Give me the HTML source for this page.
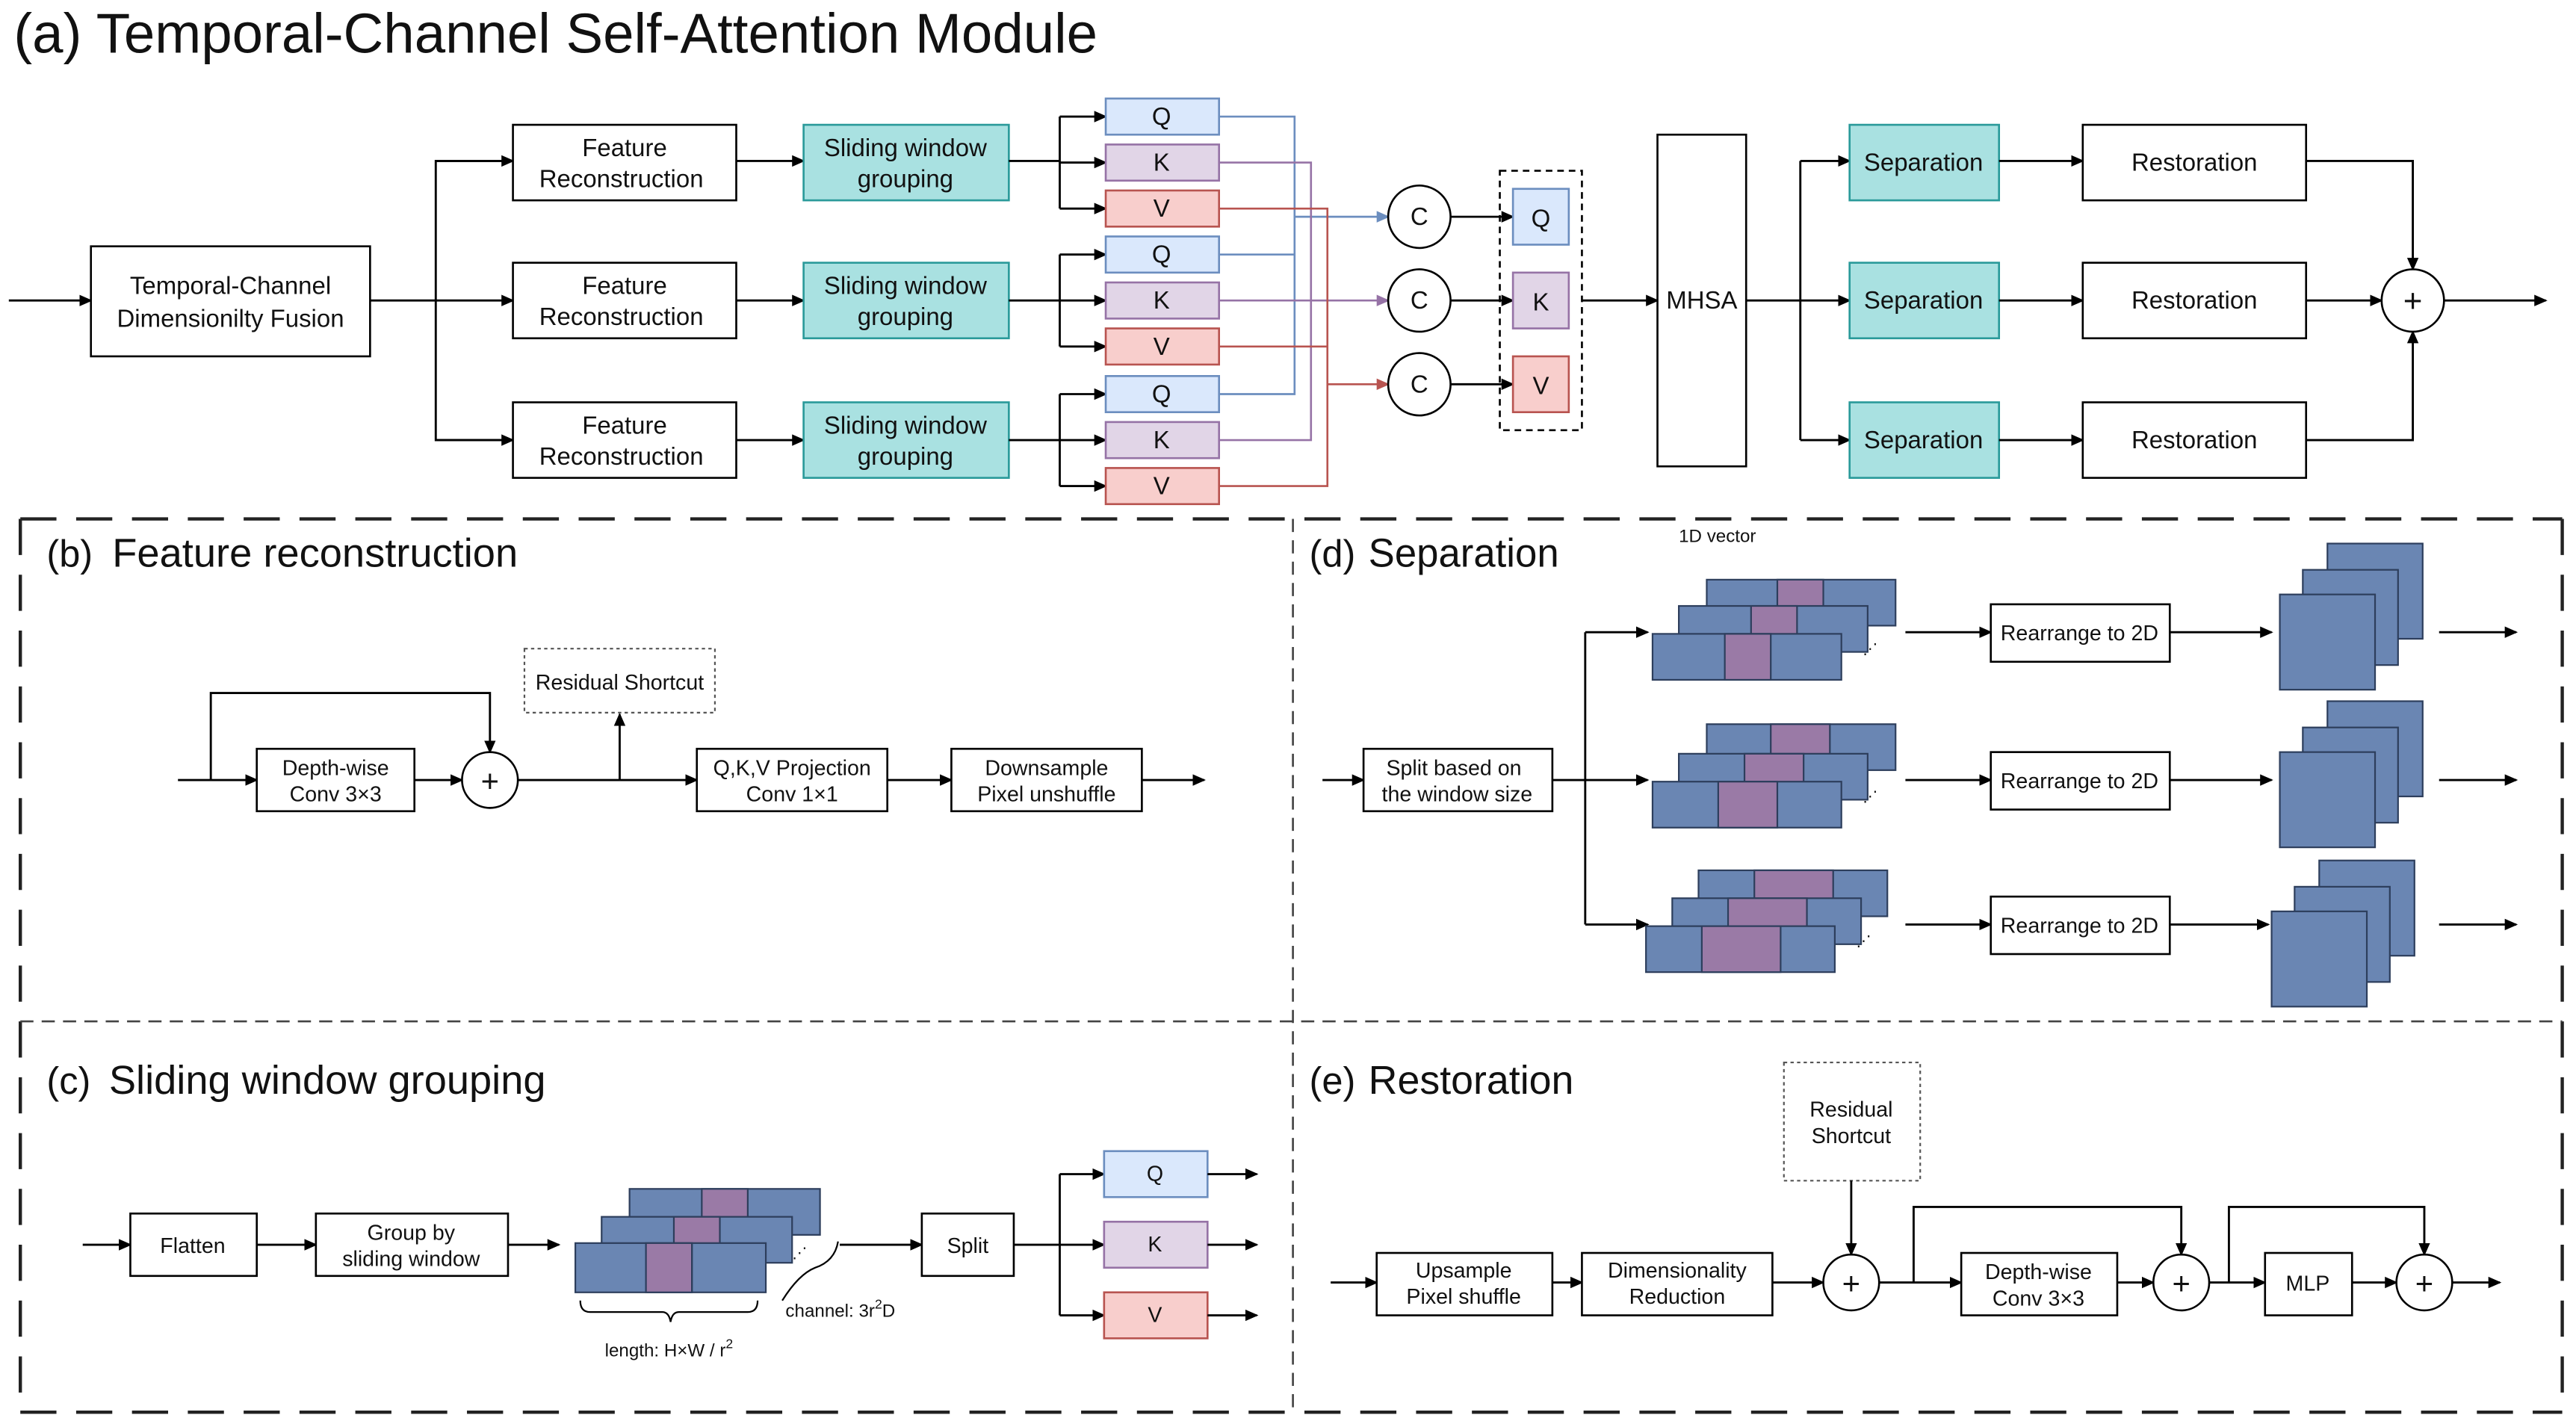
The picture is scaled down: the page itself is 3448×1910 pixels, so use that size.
<!DOCTYPE html>
<html><head><meta charset="utf-8"><style>
html,body{margin:0;padding:0;background:#fff;}
svg{display:block;}
text{font-family:"Liberation Sans",Arial,sans-serif;fill:#111;}
</style></head><body>
<svg width="3448" height="1910" viewBox="0 0 1568 869" xmlns="http://www.w3.org/2000/svg">
<defs>
<marker id="a" markerWidth="8" markerHeight="8" refX="7" refY="4" orient="auto" markerUnits="userSpaceOnUse"><path d="M0,0.5 L8,4 L0,7.5 Z" fill="#000"/></marker>
<marker id="ab" markerWidth="8" markerHeight="8" refX="7" refY="4" orient="auto" markerUnits="userSpaceOnUse"><path d="M0,0.5 L8,4 L0,7.5 Z" fill="#6c8ebf"/></marker>
<marker id="ap" markerWidth="8" markerHeight="8" refX="7" refY="4" orient="auto" markerUnits="userSpaceOnUse"><path d="M0,0.5 L8,4 L0,7.5 Z" fill="#9673a6"/></marker>
<marker id="ar" markerWidth="8" markerHeight="8" refX="7" refY="4" orient="auto" markerUnits="userSpaceOnUse"><path d="M0,0.5 L8,4 L0,7.5 Z" fill="#b85450"/></marker>
</defs>
<style>
.l{stroke:#000;stroke-width:1.3;fill:none;}
.b{stroke:#000;stroke-width:1.2;fill:#fff;}
.t{fill:#a9e1e1;stroke:#2a9a9a;stroke-width:1.2;}
.q{fill:#dae8fc;stroke:#6c8ebf;stroke-width:1.2;}
.k{fill:#e1d5e7;stroke:#9673a6;stroke-width:1.2;}
.v{fill:#f8cecc;stroke:#b85450;stroke-width:1.2;}
.bl{fill:#6a86b3;stroke:#2d3e5c;stroke-width:1;}
.pu{fill:#9a7aa6;stroke:#2d3e5c;stroke-width:1;}
.m{font-size:15px;text-anchor:middle;}
.s{font-size:13px;text-anchor:middle;}
</style>

<text x="8" y="32" font-size="34" textLength="660" lengthAdjust="spacingAndGlyphs">(a) Temporal-Channel Self-Attention Module</text>

<!-- (a) -->
<line class="l" x1="5" y1="183" x2="55" y2="183" marker-end="url(#a)"/>
<rect class="b" x="55" y="150" width="170" height="67"/>
<text class="m" x="140" y="179">Temporal-Channel</text>
<text class="m" x="140" y="199">Dimensionilty Fusion</text>
<line class="l" x1="225" y1="183" x2="312" y2="183" marker-end="url(#a)"/>
<polyline class="l" points="312,98 265,98 265,268 312,268"/>
<line class="l" x1="265" y1="98" x2="312" y2="98" marker-end="url(#a)"/>
<line class="l" x1="265" y1="268" x2="312" y2="268" marker-end="url(#a)"/>

<g>
<rect class="b" x="312" y="76" width="136" height="46"/><text class="m" x="380" y="95">Feature</text><text class="m" x="378" y="114">Reconstruction</text>
<rect class="b" x="312" y="160" width="136" height="46"/><text class="m" x="380" y="179">Feature</text><text class="m" x="378" y="198">Reconstruction</text>
<rect class="b" x="312" y="245" width="136" height="46"/><text class="m" x="380" y="264">Feature</text><text class="m" x="378" y="283">Reconstruction</text>
<line class="l" x1="448" y1="98" x2="489" y2="98" marker-end="url(#a)"/>
<line class="l" x1="448" y1="183" x2="489" y2="183" marker-end="url(#a)"/>
<line class="l" x1="448" y1="268" x2="489" y2="268" marker-end="url(#a)"/>
<rect class="t" x="489" y="76" width="125" height="46"/><text class="m" x="551" y="95">Sliding window</text><text class="m" x="551" y="114">grouping</text>
<rect class="t" x="489" y="160" width="125" height="46"/><text class="m" x="551" y="179">Sliding window</text><text class="m" x="551" y="198">grouping</text>
<rect class="t" x="489" y="245" width="125" height="46"/><text class="m" x="551" y="264">Sliding window</text><text class="m" x="551" y="283">grouping</text>
</g>

<g>
<line class="l" x1="614" y1="98" x2="645" y2="98"/><line class="l" x1="645" y1="71" x2="645" y2="127"/>
<line class="l" x1="645" y1="71" x2="673" y2="71" marker-end="url(#a)"/><line class="l" x1="645" y1="99" x2="673" y2="99" marker-end="url(#a)"/><line class="l" x1="645" y1="127" x2="673" y2="127" marker-end="url(#a)"/>
<line class="l" x1="614" y1="183" x2="645" y2="183"/><line class="l" x1="645" y1="155" x2="645" y2="211"/>
<line class="l" x1="645" y1="155" x2="673" y2="155" marker-end="url(#a)"/><line class="l" x1="645" y1="183" x2="673" y2="183" marker-end="url(#a)"/><line class="l" x1="645" y1="211" x2="673" y2="211" marker-end="url(#a)"/>
<line class="l" x1="614" y1="268" x2="645" y2="268"/><line class="l" x1="645" y1="240" x2="645" y2="296"/>
<line class="l" x1="645" y1="240" x2="673" y2="240" marker-end="url(#a)"/><line class="l" x1="645" y1="268" x2="673" y2="268" marker-end="url(#a)"/><line class="l" x1="645" y1="296" x2="673" y2="296" marker-end="url(#a)"/>
</g>
<g font-size="15" text-anchor="middle">
<rect class="q" x="673" y="60" width="69" height="22"/><text x="707" y="76">Q</text>
<rect class="k" x="673" y="88" width="69" height="22"/><text x="707" y="104">K</text>
<rect class="v" x="673" y="116" width="69" height="22"/><text x="707" y="132">V</text>
<rect class="q" x="673" y="144" width="69" height="22"/><text x="707" y="160">Q</text>
<rect class="k" x="673" y="172" width="69" height="22"/><text x="707" y="188">K</text>
<rect class="v" x="673" y="200" width="69" height="22"/><text x="707" y="216">V</text>
<rect class="q" x="673" y="229" width="69" height="22"/><text x="707" y="245">Q</text>
<rect class="k" x="673" y="257" width="69" height="22"/><text x="707" y="273">K</text>
<rect class="v" x="673" y="285" width="69" height="22"/><text x="707" y="301">V</text>
</g>
<g fill="none" stroke-width="1.2">
<polyline stroke="#6c8ebf" points="742,71 788,71 788,240 742,240"/><line stroke="#6c8ebf" x1="742" y1="155" x2="788" y2="155"/>
<line stroke="#6c8ebf" x1="788" y1="132" x2="845" y2="132" marker-end="url(#ab)"/>
<polyline stroke="#9673a6" points="742,99 798,99 798,268 742,268"/><line stroke="#9673a6" x1="742" y1="183" x2="798" y2="183"/>
<line stroke="#9673a6" x1="798" y1="183" x2="845" y2="183" marker-end="url(#ap)"/>
<polyline stroke="#b85450" points="742,127 808,127 808,296 742,296"/><line stroke="#b85450" x1="742" y1="211" x2="808" y2="211"/>
<line stroke="#b85450" x1="808" y1="234" x2="845" y2="234" marker-end="url(#ar)"/>
</g>
<g>
<circle class="b" cx="864" cy="132" r="19"/><text class="m" x="864" y="137">C</text>
<circle class="b" cx="864" cy="183" r="19"/><text class="m" x="864" y="188">C</text>
<circle class="b" cx="864" cy="234" r="19"/><text class="m" x="864" y="239">C</text>
<line class="l" x1="883" y1="132" x2="921" y2="132" marker-end="url(#a)"/>
<line class="l" x1="883" y1="183" x2="921" y2="183" marker-end="url(#a)"/>
<line class="l" x1="883" y1="234" x2="921" y2="234" marker-end="url(#a)"/>
<rect x="913" y="104" width="50" height="158" fill="none" stroke="#000" stroke-width="1.2" stroke-dasharray="4,3"/>
<rect class="q" x="921" y="115" width="34" height="34"/><text class="m" x="938" y="138">Q</text>
<rect class="k" x="921" y="166" width="34" height="34"/><text class="m" x="938" y="189">K</text>
<rect class="v" x="921" y="217" width="34" height="34"/><text class="m" x="938" y="240">V</text>
<line class="l" x1="963" y1="183" x2="1009" y2="183" marker-end="url(#a)"/>
<rect class="b" x="1009" y="82" width="54" height="202"/><text class="m" x="1036" y="188">MHSA</text>
<line class="l" x1="1063" y1="183" x2="1126" y2="183" marker-end="url(#a)"/>
<line class="l" x1="1096" y1="98" x2="1096" y2="268"/>
<line class="l" x1="1096" y1="98" x2="1126" y2="98" marker-end="url(#a)"/>
<line class="l" x1="1096" y1="268" x2="1126" y2="268" marker-end="url(#a)"/>
<rect class="t" x="1126" y="76" width="91" height="46"/><text class="m" x="1171" y="104">Separation</text>
<rect class="t" x="1126" y="160" width="91" height="46"/><text class="m" x="1171" y="188">Separation</text>
<rect class="t" x="1126" y="245" width="91" height="46"/><text class="m" x="1171" y="273">Separation</text>
<line class="l" x1="1217" y1="98" x2="1268" y2="98" marker-end="url(#a)"/>
<line class="l" x1="1217" y1="183" x2="1268" y2="183" marker-end="url(#a)"/>
<line class="l" x1="1217" y1="268" x2="1268" y2="268" marker-end="url(#a)"/>
<rect class="b" x="1268" y="76" width="136" height="46"/><text class="m" x="1336" y="104">Restoration</text>
<rect class="b" x="1268" y="160" width="136" height="46"/><text class="m" x="1336" y="188">Restoration</text>
<rect class="b" x="1268" y="245" width="136" height="46"/><text class="m" x="1336" y="273">Restoration</text>
<polyline class="l" points="1404,98 1469,98 1469,164" marker-end="url(#a)"/>
<polyline class="l" points="1404,268 1469,268 1469,202" marker-end="url(#a)"/>
<line class="l" x1="1404" y1="183" x2="1450" y2="183" marker-end="url(#a)"/>
<circle class="b" cx="1469" cy="183" r="19"/><text x="1469" y="190" font-size="20" text-anchor="middle">+</text>
<line class="l" x1="1488" y1="183" x2="1550" y2="183" marker-end="url(#a)"/>
</g>

<g fill="none" stroke="#222" stroke-width="2">
<line x1="12" y1="316" x2="1560" y2="316" stroke-dasharray="22,12"/>
<line x1="12" y1="860" x2="1560" y2="860" stroke-dasharray="22,12"/>
<line x1="12" y1="316" x2="12" y2="860" stroke-dasharray="22,12"/>
<line x1="1560" y1="316" x2="1560" y2="860" stroke-dasharray="22,12"/>
</g>
<g fill="none" stroke="#444" stroke-width="1.2" stroke-dasharray="8,5">
<line x1="787" y1="316" x2="787" y2="860"/>
<line x1="12" y1="622" x2="1560" y2="622"/>
</g>

<!-- (b) -->
<text x="28" y="345" font-size="23">(b)</text>
<text x="68" y="345" font-size="24.5" textLength="247" lengthAdjust="spacingAndGlyphs">Feature reconstruction</text>
<line class="l" x1="108" y1="475" x2="156" y2="475" marker-end="url(#a)"/>
<polyline class="l" points="128,475 128,422 298,422 298,458" marker-end="url(#a)"/>
<rect class="b" x="156" y="456" width="96" height="38"/><text class="s" x="204" y="472">Depth-wise</text><text class="s" x="204" y="488">Conv 3×3</text>
<line class="l" x1="252" y1="475" x2="281" y2="475" marker-end="url(#a)"/>
<circle class="b" cx="298" cy="475" r="17"/><text x="298" y="482" font-size="19" text-anchor="middle">+</text>
<line class="l" x1="315" y1="475" x2="424" y2="475" marker-end="url(#a)"/>
<line class="l" x1="377" y1="475" x2="377" y2="435" marker-end="url(#a)"/>
<rect x="319" y="395" width="116" height="39" fill="#fff" stroke="#555" stroke-dasharray="2,2"/>
<text class="s" x="377" y="420">Residual Shortcut</text>
<rect class="b" x="424" y="456" width="116" height="38"/><text class="s" x="482" y="472">Q,K,V Projection</text><text class="s" x="482" y="488">Conv 1×1</text>
<line class="l" x1="540" y1="475" x2="579" y2="475" marker-end="url(#a)"/>
<rect class="b" x="579" y="456" width="116" height="38"/><text class="s" x="637" y="472">Downsample</text><text class="s" x="637" y="488">Pixel unshuffle</text>
<line class="l" x1="695" y1="475" x2="733" y2="475" marker-end="url(#a)"/>

<!-- (c) -->
<text x="28" y="666" font-size="23">(c)</text>
<text x="66" y="666" font-size="24.5" textLength="266" lengthAdjust="spacingAndGlyphs">Sliding window grouping</text>
<line class="l" x1="50" y1="758" x2="79" y2="758" marker-end="url(#a)"/>
<rect class="b" x="79" y="739" width="77" height="38"/><text class="s" x="117" y="763">Flatten</text>
<line class="l" x1="156" y1="758" x2="192" y2="758" marker-end="url(#a)"/>
<rect class="b" x="192" y="739" width="117" height="38"/><text class="s" x="250" y="755">Group by</text><text class="s" x="250" y="771">sliding window</text>
<line class="l" x1="309" y1="758" x2="340" y2="758" marker-end="url(#a)"/>
<g>
<rect class="bl" x="383" y="724" width="116" height="28"/><rect class="pu" x="427" y="724" width="28" height="28"/>
<rect class="bl" x="366" y="741" width="116" height="28"/><rect class="pu" x="410" y="741" width="28" height="28"/>
<rect class="bl" x="350" y="757" width="116" height="30"/><rect class="pu" x="393" y="757" width="28" height="30"/>
<line x1="421" y1="757" x2="421" y2="787" stroke="#2d3e5c"/>
</g>
<text x="482" y="766" font-size="9">⋰</text>
<path d="M353,792 q0,7 6,7 h44 q4,0 5,6 q1,-6 5,-6 h42 q6,0 6,-7" fill="none" stroke="#000" stroke-width="1"/>
<text x="407" y="826" font-size="11" text-anchor="middle">length: H×W / r<tspan dy="-5" font-size="8">2</tspan></text>
<path d="M510,756 q-2,12 -14,16 q-10,4 -20,20" fill="none" stroke="#000" stroke-width="1"/>
<text x="478" y="802" font-size="11">channel: 3r<tspan dy="-5" font-size="8">2</tspan><tspan dy="5">D</tspan></text>
<line class="l" x1="511" y1="758" x2="561" y2="758" marker-end="url(#a)"/>
<rect class="b" x="561" y="739" width="56" height="38"/><text class="s" x="589" y="763">Split</text>
<line class="l" x1="617" y1="758" x2="672" y2="758" marker-end="url(#a)"/>
<line class="l" x1="645" y1="715" x2="645" y2="801"/>
<line class="l" x1="645" y1="715" x2="672" y2="715" marker-end="url(#a)"/>
<line class="l" x1="645" y1="801" x2="672" y2="801" marker-end="url(#a)"/>
<rect class="q" x="672" y="701" width="63" height="28"/><text class="s" x="703" y="719">Q</text>
<rect class="k" x="672" y="744" width="63" height="28"/><text class="s" x="703" y="762">K</text>
<rect class="v" x="672" y="787" width="63" height="28"/><text class="s" x="703" y="805">V</text>
<line class="l" x1="735" y1="715" x2="765" y2="715" marker-end="url(#a)"/>
<line class="l" x1="735" y1="758" x2="765" y2="758" marker-end="url(#a)"/>
<line class="l" x1="735" y1="801" x2="765" y2="801" marker-end="url(#a)"/>

<!-- (d) -->
<text x="797" y="345" font-size="23">(d)</text>
<text x="833" y="345" font-size="24.5" textLength="116" lengthAdjust="spacingAndGlyphs">Separation</text>
<text x="1022" y="330" font-size="11">1D vector</text>
<line class="l" x1="805" y1="475" x2="830" y2="475" marker-end="url(#a)"/>
<rect class="b" x="830" y="456" width="115" height="38"/><text class="s" x="885" y="472">Split based on</text><text class="s" x="887" y="488">the window size</text>
<line class="l" x1="945" y1="475" x2="1003" y2="475" marker-end="url(#a)"/>
<line class="l" x1="965" y1="385" x2="965" y2="563"/>
<line class="l" x1="965" y1="385" x2="1003" y2="385" marker-end="url(#a)"/>
<line class="l" x1="965" y1="563" x2="1003" y2="563" marker-end="url(#a)"/>
<g>
<rect class="bl" x="1039" y="353" width="115" height="28"/><rect class="pu" x="1082" y="353" width="28" height="28"/>
<rect class="bl" x="1022" y="369" width="115" height="28"/><rect class="pu" x="1066" y="369" width="28" height="28"/>
<rect class="bl" x="1006" y="386" width="115" height="28"/><rect class="pu" x="1050" y="386" width="28" height="28"/>
<text x="1134" y="398" font-size="9">⋰</text>
</g>
<g>
<rect class="bl" x="1039" y="441" width="115" height="28"/><rect class="pu" x="1078" y="441" width="36" height="28"/>
<rect class="bl" x="1022" y="459" width="115" height="28"/><rect class="pu" x="1062" y="459" width="36" height="28"/>
<rect class="bl" x="1006" y="476" width="115" height="28"/><rect class="pu" x="1046" y="476" width="36" height="28"/>
<text x="1134" y="488" font-size="9">⋰</text>
</g>
<g>
<rect class="bl" x="1034" y="530" width="115" height="28"/><rect class="pu" x="1068" y="530" width="48" height="28"/>
<rect class="bl" x="1018" y="547" width="115" height="28"/><rect class="pu" x="1052" y="547" width="48" height="28"/>
<rect class="bl" x="1002" y="564" width="115" height="28"/><rect class="pu" x="1036" y="564" width="48" height="28"/>
<text x="1130" y="576" font-size="9">⋰</text>
</g>
<line class="l" x1="1160" y1="385" x2="1212" y2="385" marker-end="url(#a)"/>
<line class="l" x1="1160" y1="475" x2="1212" y2="475" marker-end="url(#a)"/>
<line class="l" x1="1160" y1="563" x2="1212" y2="563" marker-end="url(#a)"/>
<rect class="b" x="1212" y="368" width="109" height="35"/><text class="s" x="1266" y="390">Rearrange to 2D</text>
<rect class="b" x="1212" y="458" width="109" height="35"/><text class="s" x="1266" y="480">Rearrange to 2D</text>
<rect class="b" x="1212" y="546" width="109" height="35"/><text class="s" x="1266" y="568">Rearrange to 2D</text>
<line class="l" x1="1321" y1="385" x2="1383" y2="385" marker-end="url(#a)"/>
<line class="l" x1="1321" y1="475" x2="1383" y2="475" marker-end="url(#a)"/>
<line class="l" x1="1321" y1="563" x2="1381" y2="563" marker-end="url(#a)"/>
<g>
<rect class="bl" x="1417" y="331" width="58" height="58"/><rect class="bl" x="1402" y="347" width="58" height="58"/><rect class="bl" x="1388" y="362" width="58" height="58"/>
<rect class="bl" x="1417" y="427" width="58" height="58"/><rect class="bl" x="1402" y="443" width="58" height="58"/><rect class="bl" x="1388" y="458" width="58" height="58"/>
<rect class="bl" x="1412" y="524" width="58" height="58"/><rect class="bl" x="1397" y="540" width="58" height="58"/><rect class="bl" x="1383" y="555" width="58" height="58"/>
</g>
<line class="l" x1="1485" y1="385" x2="1532" y2="385" marker-end="url(#a)"/>
<line class="l" x1="1485" y1="475" x2="1532" y2="475" marker-end="url(#a)"/>
<line class="l" x1="1485" y1="563" x2="1532" y2="563" marker-end="url(#a)"/>

<!-- (e) -->
<text x="797" y="666" font-size="23">(e)</text>
<text x="833" y="666" font-size="24.5" textLength="125" lengthAdjust="spacingAndGlyphs">Restoration</text>
<rect x="1086" y="647" width="83" height="72" fill="#fff" stroke="#555" stroke-dasharray="2,2"/>
<text class="s" x="1127" y="680">Residual</text><text class="s" x="1127" y="696">Shortcut</text>
<line class="l" x1="1127" y1="719" x2="1127" y2="764" marker-end="url(#a)"/>
<line class="l" x1="810" y1="781" x2="838" y2="781" marker-end="url(#a)"/>
<rect class="b" x="838" y="763" width="107" height="38"/><text class="s" x="891" y="778">Upsample</text><text class="s" x="891" y="794">Pixel shuffle</text>
<line class="l" x1="945" y1="781" x2="963" y2="781" marker-end="url(#a)"/>
<rect class="b" x="963" y="763" width="116" height="38"/><text class="s" x="1021" y="778">Dimensionality</text><text class="s" x="1021" y="794">Reduction</text>
<line class="l" x1="1079" y1="781" x2="1110" y2="781" marker-end="url(#a)"/>
<circle class="b" cx="1127" cy="781" r="17"/><text x="1127" y="788" font-size="19" text-anchor="middle">+</text>
<line class="l" x1="1144" y1="781" x2="1194" y2="781" marker-end="url(#a)"/>
<polyline class="l" points="1165,781 1165,735 1328,735 1328,764" marker-end="url(#a)"/>
<rect class="b" x="1194" y="763" width="95" height="38"/><text class="s" x="1241" y="779">Depth-wise</text><text class="s" x="1241" y="795">Conv 3×3</text>
<line class="l" x1="1289" y1="781" x2="1311" y2="781" marker-end="url(#a)"/>
<circle class="b" cx="1328" cy="781" r="17"/><text x="1328" y="788" font-size="19" text-anchor="middle">+</text>
<line class="l" x1="1345" y1="781" x2="1379" y2="781" marker-end="url(#a)"/>
<polyline class="l" points="1357,781 1357,735 1476,735 1476,764" marker-end="url(#a)"/>
<rect class="b" x="1379" y="763" width="53" height="38"/><text class="s" x="1405" y="786">MLP</text>
<line class="l" x1="1432" y1="781" x2="1459" y2="781" marker-end="url(#a)"/>
<circle class="b" cx="1476" cy="781" r="17"/><text x="1476" y="788" font-size="19" text-anchor="middle">+</text>
<line class="l" x1="1493" y1="781" x2="1522" y2="781" marker-end="url(#a)"/>
</svg>
</body></html>
